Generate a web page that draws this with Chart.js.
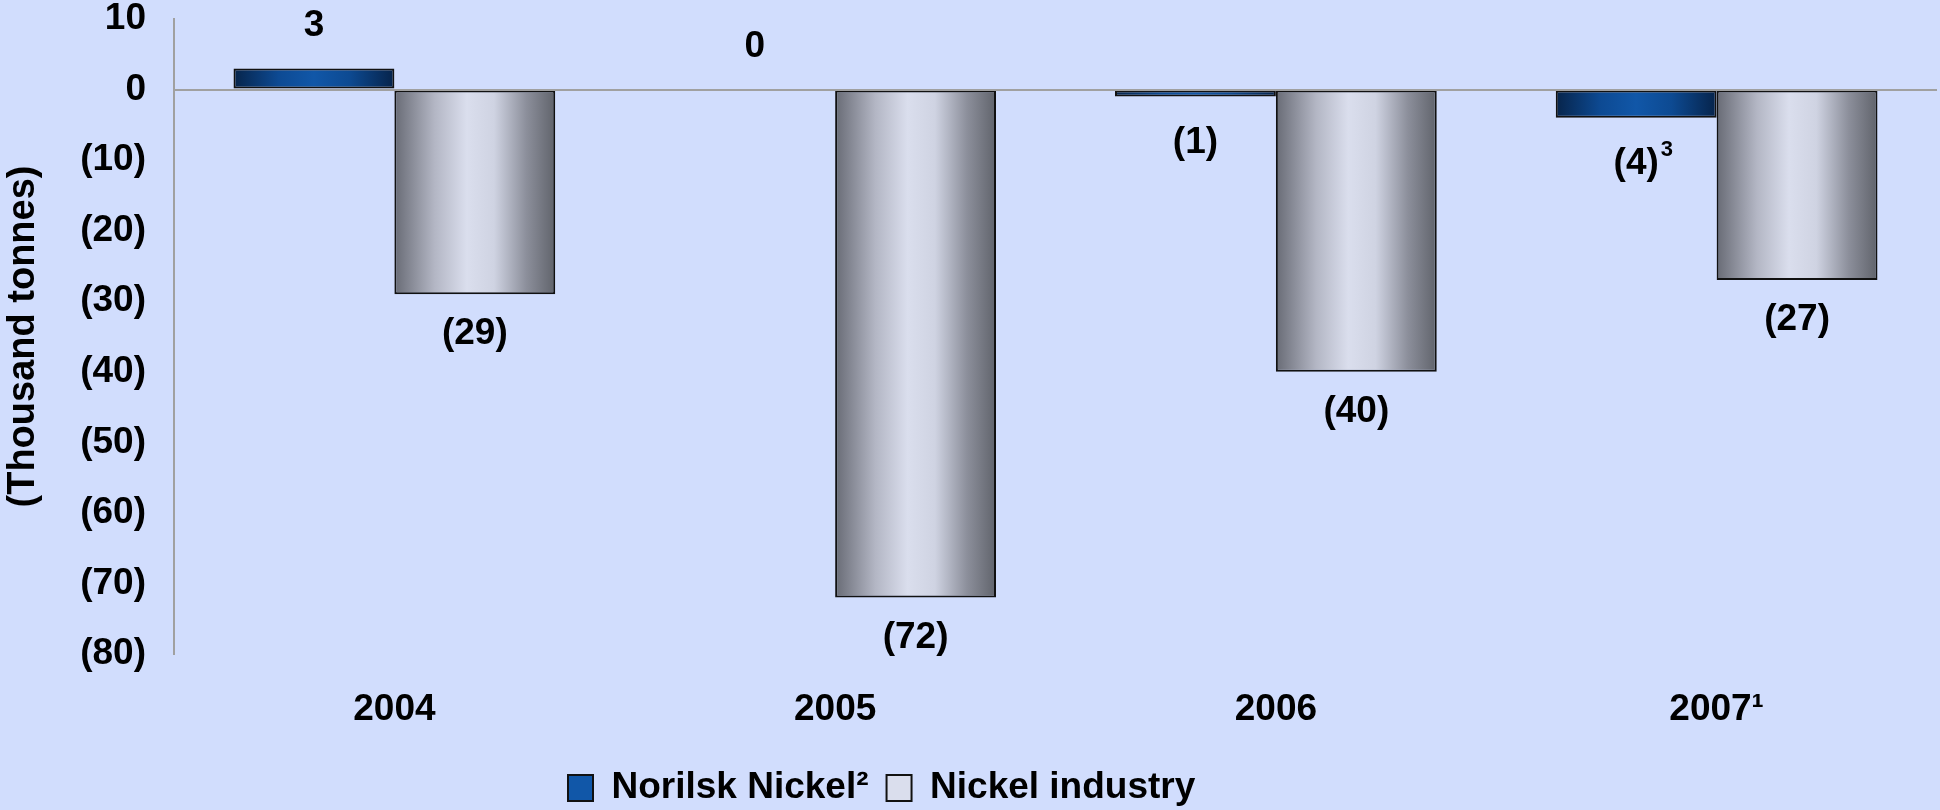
<!DOCTYPE html>
<html>
<head>
<meta charset="utf-8">
<script src="https://cdn.jsdelivr.net/npm/chart.js@4.4.1/dist/chart.umd.min.js"></script>
<style>
  html, body { margin: 0; padding: 0; background: #d1ddfd; }
  #wrap { width: 1940px; height: 810px; position: relative; }
</style>
</head>
<body>
<div id="wrap"><canvas id="c"></canvas></div>
<script>
// ---- data ----
const categories = ['2004', '2005', '2006', '2007\u00B9'];
const seriesNames = ['Norilsk Nickel\u00B2', 'Nickel industry'];
const norilskValues = [3, 0, -1, -4];
const industryValues = [-29, -72, -40, -27];
const norilskNotes = ['', '', '', '3'];
const industryNotes = ['', '', '', ''];
const yMin = -80, yMax = 10, yStep = 10;

// ---- styles ----
const FONT = '"Liberation Sans", Arial, Helvetica, sans-serif';
const FS = 37;
const CAT_PCT = 0.73;
const blueStops = [[0, '#07244a'], [0.28, '#0d4a93'], [0.5, '#1157a8'], [0.72, '#0d4a92'], [1, '#06234a']];
const grayStops = [[0, '#686b75'], [0.25, '#b3b6c4'], [0.45, '#dadeed'], [0.62, '#cfd3e2'], [0.82, '#8c8f9b'], [1, '#60636b']];
const stopsBySeries = [blueStops, grayStops];
const notesBySeries = [norilskNotes, industryNotes];
const LEGEND_X = 568, LEGEND_Y = 788;

function makeGrad(ctx, x0, x1, stops) {
  const g = ctx.createLinearGradient(x0, 0, x1, 0);
  stops.forEach(s => g.addColorStop(s[0], s[1]));
  return g;
}

function barGradient(seriesIdx) {
  const stops = stopsBySeries[seriesIdx];
  return function (c) {
    const chart = c.chart;
    const xs = chart.scales && chart.scales.x;
    if (!xs || c.dataIndex === undefined || !chart.chartArea) return stops[2][1];
    const n = chart.data.labels.length;
    const cat = (xs.right - xs.left) / n;
    const size = cat * CAT_PCT / 2;
    const center = xs.getPixelForValue(c.dataIndex);
    const x0 = seriesIdx === 0 ? center - size : center;
    return makeGrad(chart.ctx, x0, x0 + size, stops);
  };
}

const legendShift = {
  id: 'legendShift',
  afterLayout(chart) {
    const lg = chart.legend;
    if (!lg || !lg.lineWidths) return;
    const pad = lg.options.labels.padding;
    const cur = (lg.left + pad + lg.right - lg.lineWidths[0]) / 2;
    const dx = LEGEND_X - cur;
    const itemH = Math.max(lg.options.labels.boxHeight, FS);
    const dy = LEGEND_Y - (lg.top + pad + itemH / 2);
    lg.left += dx; lg.right += dx; lg.top += dy; lg.bottom += dy;
    let x = LEGEND_X;
    const bw = lg.options.labels.boxWidth;
    lg.legendItems.forEach((it, i) => {
      it.fillStyle = makeGrad(chart.ctx, x, x + bw, stopsBySeries[i]);
      x += lg.legendHitBoxes[i].width + pad;
    });
  }
};

const valueLabels = {
  id: 'valueLabels',
  afterDatasetsDraw(chart) {
    const ctx = chart.ctx;
    ctx.save();
    ctx.fillStyle = '#000';
    chart.data.datasets.forEach((ds, di) => {
      const meta = chart.getDatasetMeta(di);
      meta.data.forEach((el, i) => {
        const v = ds.data[i];
        const txt = v < 0 ? '(' + (-v) + ')' : String(v);
        const y = v >= 0 ? el.y - 43 : el.y + (di === 0 ? 46 : 40);
        ctx.font = 'bold ' + FS + 'px ' + FONT;
        ctx.textAlign = 'center';
        ctx.textBaseline = 'middle';
        ctx.fillText(txt, el.x, y);
        const note = notesBySeries[di][i];
        if (note) {
          const w = ctx.measureText(txt).width;
          ctx.font = 'bold 22px ' + FONT;
          ctx.textAlign = 'left';
          ctx.textBaseline = 'alphabetic';
          ctx.fillText(note, el.x + w / 2 + 2, y - 8);
        }
      });
    });
    ctx.restore();
  }
};

new Chart(document.getElementById('c'), {
  type: 'bar',
  data: {
    labels: categories,
    datasets: [
      { label: seriesNames[0], data: norilskValues, backgroundColor: barGradient(0),
        borderColor: '#111', borderWidth: 2, borderSkipped: false },
      { label: seriesNames[1], data: industryValues, backgroundColor: barGradient(1),
        borderColor: '#111', borderWidth: 2, borderSkipped: false }
    ]
  },
  options: {
    responsive: true,
    maintainAspectRatio: false,
    animation: false,
    events: [],
    datasets: { bar: { categoryPercentage: CAT_PCT, barPercentage: 1 } },
    layout: { padding: { top: 19, right: 3, left: 0, bottom: 0 } },
    scales: {
      x: {
        grid: { display: false, drawTicks: false },
        border: { display: false },
        ticks: { color: '#000', padding: 37, font: { family: FONT, size: FS, weight: 'bold', lineHeight: 1 } },
        afterFit: s => { s.height = 91; }
      },
      y: {
        min: yMin, max: yMax,
        grid: { drawTicks: true, tickLength: 28, tickColor: 'rgba(0,0,0,0)', z: 1, lineWidth: 2,
          color: c => (c.tick && c.tick.value === 0) ? '#a0a0a0' : 'rgba(0,0,0,0)' },
        border: { display: true, color: '#a0a0a0', width: 2, z: 2 },
        ticks: { stepSize: yStep, color: '#000', padding: 0,
          font: { family: FONT, size: FS, weight: 'bold', lineHeight: 1 },
          callback: v => v < 0 ? '(' + (-v) + ')' : String(v) },
        title: { display: true, text: '(Thousand tonnes)', color: '#000',
          font: { family: FONT, size: 38, weight: 'bold' }, padding: { top: 1, bottom: 0 } },
        afterFit: s => { s.width = 174; }
      }
    },
    plugins: {
      legend: {
        position: 'bottom',
        labels: {
          color: '#000', boxWidth: 25, boxHeight: 26, padding: 18,
          font: { family: FONT, size: FS, weight: 'bold' },
          generateLabels: chart => chart.data.datasets.map((ds, i) => ({
            text: ds.label, fillStyle: stopsBySeries[i][2][1], strokeStyle: '#111',
            lineWidth: 2, hidden: false, datasetIndex: i, fontColor: '#000'
          }))
        }
      },
      tooltip: { enabled: false }
    }
  },
  plugins: [legendShift, valueLabels]
});
</script>
</body>
</html>
